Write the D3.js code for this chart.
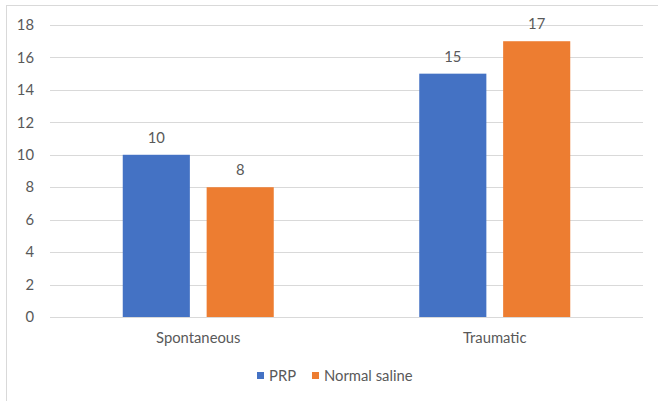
<!DOCTYPE html>
<html>
<head>
<meta charset="utf-8">
<script src="https://cdn.jsdelivr.net/npm/d3@7"></script>
<style>
  html, body { margin: 0; padding: 0; background: #fff; }
  svg { display: block; }
  text { font-family: Lato, "Open Sans", sans-serif; fill: #595959; }
</style>
</head>
<body>
<svg id="chart" width="658" height="401"></svg>
<script>
// Chart data
const categories = ["Spontaneous", "Traumatic"];
const seriesNames = ["PRP", "Normal saline"];
const prpValues = [10, 15];
const salineValues = [8, 17];
const yTicks = [0, 2, 4, 6, 8, 10, 12, 14, 16, 18];

const seriesColors = ["#4472C4", "#ED7D31"];
const seriesValues = [prpValues, salineValues];

const svg = d3.select("#chart");
const W = 658, H = 401;
const plot = { left: 50, right: 643, top: 25, bottom: 317 };
const fontSize = 14.8;

// Outer frame of the chart area
svg.append("rect")
  .attr("x", 6.5).attr("y", 5.5)
  .attr("width", W + 10).attr("height", H - 5)
  .attr("fill", "none").attr("stroke", "#d9d9d9").attr("stroke-width", 1);

const y = d3.scaleLinear().domain([0, 18]).range([plot.bottom, plot.top]);
const x0 = d3.scaleBand().domain(categories).range([plot.left, plot.right]);
const groupPad = (x0.bandwidth() - 151) / 2;
const x1 = d3.scaleBand().domain(seriesNames)
  .range([groupPad, x0.bandwidth() - groupPad])
  .paddingInner(0.2);

// Horizontal gridlines
svg.append("g")
  .selectAll("line")
  .data(yTicks)
  .join("line")
  .attr("x1", plot.left).attr("x2", plot.right)
  .attr("y1", d => Math.round(y(d)) + 0.5).attr("y2", d => Math.round(y(d)) + 0.5)
  .attr("stroke", "#d9d9d9").attr("stroke-width", 1);

// Y axis tick labels
const yAxis = d3.axisLeft(y).tickValues(yTicks).tickSize(0).tickPadding(0);
const yg = svg.append("g")
  .attr("transform", `translate(34,0)`)
  .call(yAxis);
yg.select(".domain").remove();
yg.selectAll("text")
  .style("font-family", "Lato, 'Open Sans', sans-serif")
  .attr("font-size", fontSize).attr("fill", "#595959");

// Bars
const rows = categories.map((c, i) => ({
  cat: c,
  vals: seriesNames.map((s, j) => ({ s, v: seriesValues[j][i], color: seriesColors[j] }))
}));

const groups = svg.append("g").selectAll("g")
  .data(rows)
  .join("g")
  .attr("transform", d => `translate(${x0(d.cat)},0)`);

groups.selectAll("rect")
  .data(d => d.vals)
  .join("rect")
  .attr("x", d => x1(d.s))
  .attr("width", x1.bandwidth())
  .attr("y", d => y(d.v))
  .attr("height", d => y(0) - y(d.v))
  .attr("fill", d => d.color);

// Value labels
groups.selectAll("text.val")
  .data(d => d.vals)
  .join("text")
  .attr("class", "val")
  .attr("x", d => x1(d.s) + x1.bandwidth() / 2)
  .attr("y", d => y(d.v) - 12)
  .attr("text-anchor", "middle")
  .attr("font-size", fontSize)
  .text(d => d.v);

// Category labels
const xAxis = d3.axisBottom(x0).tickSize(0).tickPadding(0);
const xg = svg.append("g")
  .attr("transform", `translate(0,${plot.bottom})`)
  .call(xAxis);
xg.select(".domain").remove();
xg.selectAll("text")
  .attr("dy", null)
  .attr("y", 26)
  .style("font-family", "Lato, 'Open Sans', sans-serif")
  .attr("font-size", fontSize).attr("fill", "#595959");

// Legend
const legendItems = [
  { name: seriesNames[0], color: seriesColors[0], x: 257 },
  { name: seriesNames[1], color: seriesColors[1], x: 312 }
];
const lg = svg.append("g");
lg.selectAll("rect")
  .data(legendItems)
  .join("rect")
  .attr("x", d => d.x).attr("y", 372)
  .attr("width", 7).attr("height", 7)
  .attr("fill", d => d.color);
lg.selectAll("text")
  .data(legendItems)
  .join("text")
  .attr("x", d => d.x + 12).attr("y", 380.5)
  .attr("font-size", fontSize)
  .text(d => d.name);
</script>
</body>
</html>
